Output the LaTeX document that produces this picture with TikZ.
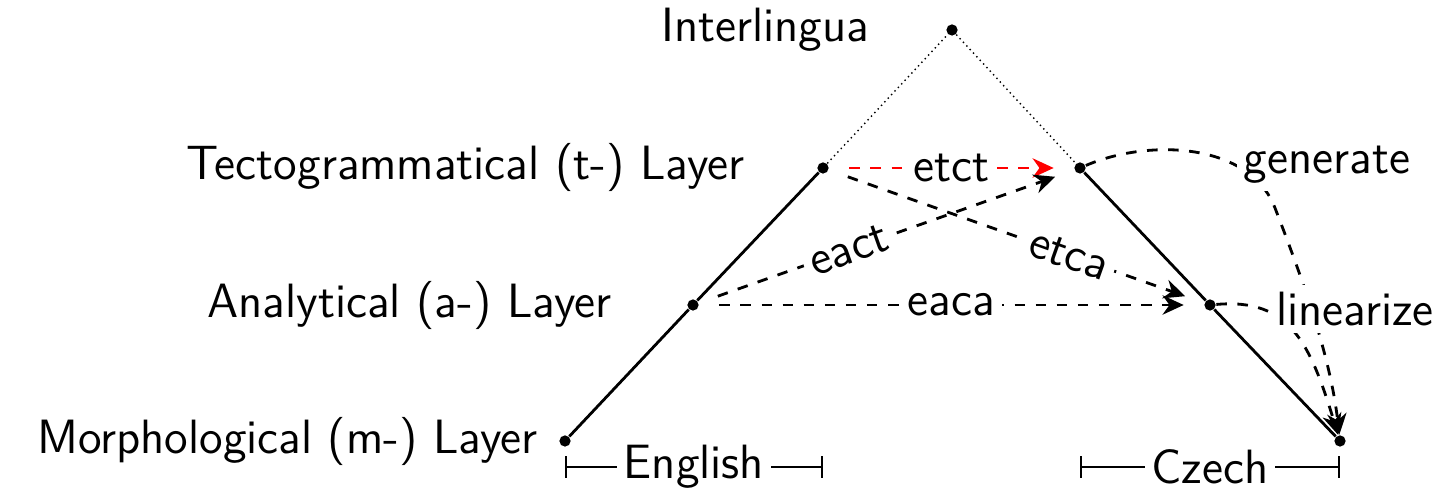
\documentclass[tikz,border=0pt]{standalone}
\usetikzlibrary{arrows.meta}
\renewcommand{\familydefault}{\sfdefault}

\begin{document}
\begin{tikzpicture}[
    font=\fontsize{13.7}{16}\selectfont,
    dot/.style={circle, fill, inner sep=0pt, minimum size=3.2pt},
    layer/.style={anchor=east, inner sep=0pt},
    trans/.style={dashed, thick, -{Stealth[length=6pt,width=5.5pt]}, shorten <=0.2cm, shorten >=0.2cm},
    gen/.style={dashed, thick, -{Stealth[length=6pt,width=5.5pt]}},
    tag/.style={fill=white, inner sep=2pt},
    span/.style={semithick, {Bar[width=6pt]}-{Bar[width=6pt]}}
  ]
  \useasboundingbox (0,0) rectangle (14.38,5.03);

  % Points of the triangle
  \node[dot] (il) at (9.52,4.73) {};
  \node[dot] (etl) at (8.23,3.35) {};
  \node[dot] (eal) at (6.93,1.98) {};
  \node[dot] (eml) at (5.65,0.62) {};
  \node[dot] (ctl) at (10.80,3.35) {};
  \node[dot] (cal) at (12.10,1.98) {};
  \node[dot] (cml) at (13.40,0.62) {};

  % Layer names
  \node[layer] (nil) at (8.70,4.73) {Interlingua};
  \node[layer] (ntl) at (7.45,3.35) {Tectogrammatical (t-) Layer};
  \node[layer] (nal) at (6.12,1.98) {Analytical (a-) Layer};
  \node[layer] (nml) at (5.38,0.62) {Morphological (m-) Layer};

  % Sides
  \draw[thick] (eml) -- (eal) -- (etl);
  \draw[thick] (ctl) -- (cal) -- (cml);
  \draw[densely dotted, thin] (etl) -- (il) -- (ctl);

  % Transfers
  \draw[trans, red] (etl) -- (ctl) node[tag, midway, text=black] (etct) {etct};
  \draw[trans] (eal) -- (ctl) node[tag, pos=0.4, sloped] (eact) {eact};
  \draw[trans] (etl) -- (cal) node[tag, pos=0.64, sloped] (etca) {etca};
  \draw[trans] (eal) -- (cal) node[tag, midway] (eaca) {eaca};

  % Synthesis
  \coordinate (g1) at (12.75,2.95);
  \draw[gen] (ctl) .. controls (11.5,3.65) and (12.5,3.6) .. (g1)
    .. controls (13.0,2.3) and (13.3,1.5) .. (cml);
  \draw[gen] (cal) .. controls (12.9,2.05) and (13.1,1.6) .. (cml);
  \node[tag] (ngen) at (13.27,3.38) {generate};
  \node[tag] (nlin) at (13.55,1.94) {linearize};

  % Languages
  \coordinate (es) at (5.65,0.36);
  \coordinate (ee) at (8.23,0.36);
  \coordinate (cs) at (10.80,0.36);
  \coordinate (ce) at (13.40,0.36);
  \draw[span] (es) -- (ee) node[tag, midway] (eng) {English};
  \draw[span] (cs) -- (ce) node[tag, midway] (cze) {Czech};
\end{tikzpicture}
\end{document}
